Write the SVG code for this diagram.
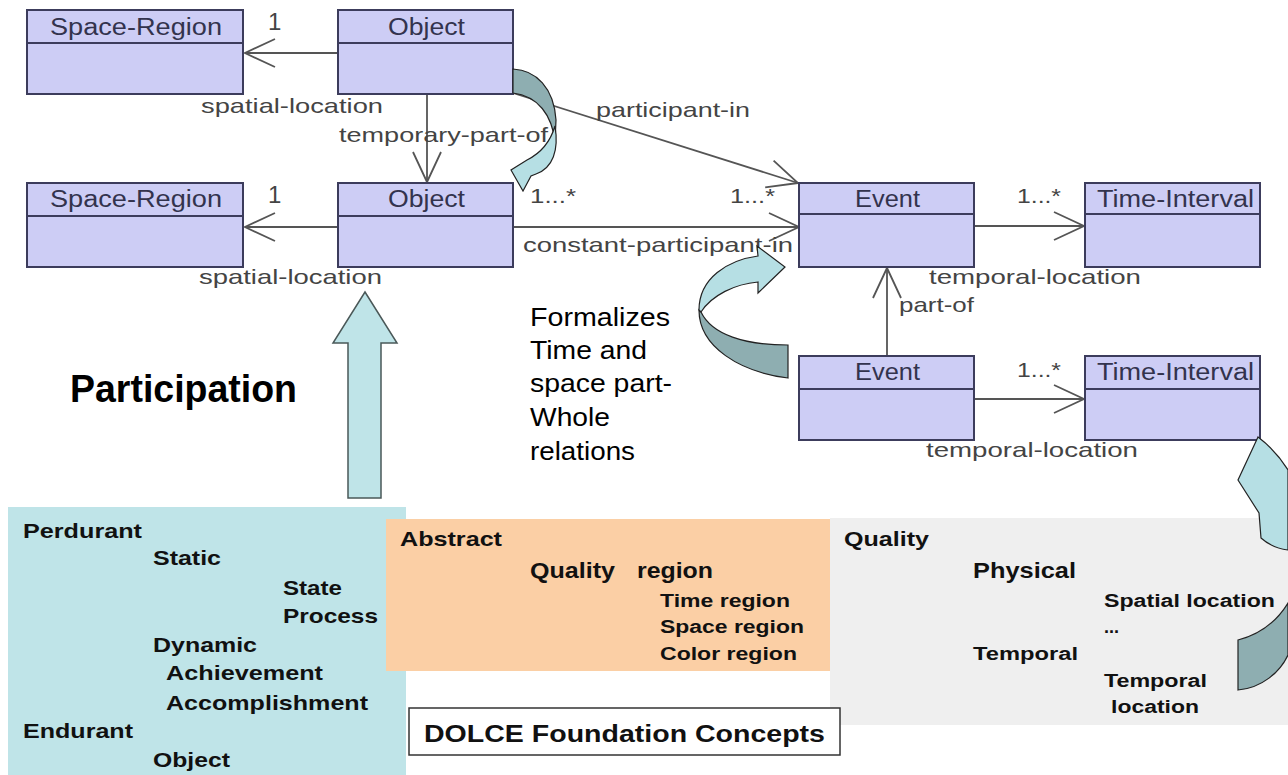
<svg xmlns="http://www.w3.org/2000/svg" width="1288" height="775" viewBox="0 0 1288 775">
<style>
.box{fill:#cdcdf5;stroke:#3c3c5c;stroke-width:2}
.div{stroke:#3c3c5c;stroke-width:2}
.hdr{font-family:"Liberation Sans",Arial,sans-serif;font-size:23px;fill:#33334d}
.lbl{font-family:"Liberation Sans",Arial,sans-serif;font-size:21px;fill:#444}
.one{font-size:24px}
.ln{stroke:#555;stroke-width:1.8;fill:none}
.big{font-family:"Liberation Sans",Arial,sans-serif;fill:#000}
.b{font-family:"Liberation Sans",Arial,sans-serif;font-weight:bold;fill:#111}
.light{fill:#b6dfe4;stroke:#222;stroke-width:1.2}
.dark{fill:#8eaeb1;stroke:#222;stroke-width:1.2}
</style>
<defs>
<marker id="open" markerUnits="userSpaceOnUse" markerWidth="40" markerHeight="40" viewBox="-35 -20 40 40" refX="0" refY="0" orient="auto" overflow="visible">
<path d="M-30,-14 L0,0 L-30,14" fill="none" stroke="#555" stroke-width="1.8"/>
</marker>
</defs>
<rect width="1288" height="775" fill="#fff"/>

<g id="panels">
<rect id="panel-perdurant" x="8" y="507" width="398" height="268" fill="#bfe4e8"/>
<rect id="panel-abstract" x="386" y="519" width="444" height="152" fill="#fbcfa5"/>
<rect id="panel-quality" x="830" y="518" width="458" height="207" fill="#efefef"/>
</g>

<g id="connectors">
<line class="ln" x1="338" y1="53" x2="245" y2="53" marker-end="url(#open)"/>
<line class="ln" x1="427" y1="94" x2="427" y2="182" marker-end="url(#open)"/>
<line class="ln" x1="513" y1="93" x2="798" y2="183" marker-end="url(#open)"/>
<line class="ln" x1="338" y1="227" x2="245" y2="227" marker-end="url(#open)"/>
<line class="ln" x1="513" y1="227" x2="799" y2="227" marker-end="url(#open)"/>
<line class="ln" x1="974" y1="226" x2="1084" y2="226" marker-end="url(#open)"/>
<line class="ln" x1="887" y1="356" x2="887" y2="268" marker-end="url(#open)"/>
<line class="ln" x1="974" y1="399" x2="1084" y2="399" marker-end="url(#open)"/>
<text class="lbl one" x="268" y="30">1</text>
<text class="lbl" x="201" y="113" textLength="182" lengthAdjust="spacingAndGlyphs">spatial-location</text>
<text class="lbl" x="339" y="142" textLength="209" lengthAdjust="spacingAndGlyphs">temporary-part-of</text>
<text class="lbl" x="596" y="117" textLength="154" lengthAdjust="spacingAndGlyphs">participant-in</text>
<text class="lbl one" x="268" y="203">1</text>
<text class="lbl" x="530" y="203" textLength="46" lengthAdjust="spacingAndGlyphs">1...*</text>
<text class="lbl" x="730" y="203" textLength="45" lengthAdjust="spacingAndGlyphs">1...*</text>
<text class="lbl" x="523" y="252" textLength="270" lengthAdjust="spacingAndGlyphs">constant-participant-in</text>
<text class="lbl" x="199" y="284" textLength="183" lengthAdjust="spacingAndGlyphs">spatial-location</text>
<text class="lbl" x="1017" y="203" textLength="44" lengthAdjust="spacingAndGlyphs">1...*</text>
<text class="lbl" x="929" y="284" textLength="212" lengthAdjust="spacingAndGlyphs">temporal-location</text>
<text class="lbl" x="899" y="312" textLength="75" lengthAdjust="spacingAndGlyphs">part-of</text>
<text class="lbl" x="1017" y="377" textLength="44" lengthAdjust="spacingAndGlyphs">1...*</text>
<text class="lbl" x="926" y="457" textLength="212" lengthAdjust="spacingAndGlyphs">temporal-location</text>
</g>

<g id="space-region-1">
<rect class="box" x="27" y="10" width="216" height="84"/>
<line class="div" x1="27" y1="43" x2="243" y2="43"/>
<text class="hdr" x="50" y="35" textLength="172" lengthAdjust="spacingAndGlyphs">Space-Region</text>
</g>
<g id="object-1">
<rect class="box" x="338" y="10" width="175" height="84"/>
<line class="div" x1="338" y1="43" x2="513" y2="43"/>
<text class="hdr" x="388" y="35" textLength="77" lengthAdjust="spacingAndGlyphs">Object</text>
</g>
<g id="space-region-2">
<rect class="box" x="27" y="183" width="216" height="84"/>
<line class="div" x1="27" y1="216" x2="243" y2="216"/>
<text class="hdr" x="50" y="207" textLength="172" lengthAdjust="spacingAndGlyphs">Space-Region</text>
</g>
<g id="object-2">
<rect class="box" x="338" y="183" width="175" height="84"/>
<line class="div" x1="338" y1="216" x2="513" y2="216"/>
<text class="hdr" x="388" y="207" textLength="77" lengthAdjust="spacingAndGlyphs">Object</text>
</g>
<g id="event-1">
<rect class="box" x="799" y="183" width="175" height="84"/>
<line class="div" x1="799" y1="214" x2="974" y2="214"/>
<text class="hdr" x="855" y="207" textLength="65" lengthAdjust="spacingAndGlyphs">Event</text>
</g>
<g id="time-interval-1">
<rect class="box" x="1085" y="183" width="175" height="84"/>
<line class="div" x1="1085" y1="214" x2="1260" y2="214"/>
<text class="hdr" x="1097" y="207" textLength="157" lengthAdjust="spacingAndGlyphs">Time-Interval</text>
</g>
<g id="event-2">
<rect class="box" x="799" y="356" width="175" height="84"/>
<line class="div" x1="799" y1="389" x2="974" y2="389"/>
<text class="hdr" x="855" y="380" textLength="65" lengthAdjust="spacingAndGlyphs">Event</text>
</g>
<g id="time-interval-2">
<rect class="box" x="1085" y="356" width="175" height="84"/>
<line class="div" x1="1085" y1="389" x2="1260" y2="389"/>
<text class="hdr" x="1097" y="380" textLength="157" lengthAdjust="spacingAndGlyphs">Time-Interval</text>
</g>

<g id="curl-top">
<path class="dark" d="M513,69 C536,70 554,88 556,120 L555,142 C552,115 538,96 513,93 Z"/>
<path class="light" d="M555,126 C559,150 553,168 536,174 L531,176 L523,191 L511,170 L527,160 C539,154 550,143 555,126 Z"/>
</g>
<g id="curl-mid">
<path class="dark" d="M699,310 C699,347 740,372 788,378 L788,345 C745,345 712,335 701,312 Z"/>
<path class="light" d="M699,310 C699,278 728,260 758,256 L757,246 L785,267 L758,293 L758,282 C735,284 712,295 701,312 Z"/>
</g>
<g id="curl-right">
<path class="light" d="M1258,437 L1238,480 L1259,513 L1261,538 C1270,546 1280,549 1288,550 L1288,470 C1280,457 1270,446 1258,437 Z"/>
<path class="dark" d="M1288,603 C1275,624 1258,635 1238,640 L1238,690 C1262,688 1280,672 1288,655 Z"/>
</g>
<g id="up-arrow">
<polygon points="365,292 397,343 381,343 381,498 348,498 348,343 333,343" fill="#bfe4e8" stroke="#4a5858" stroke-width="1.5"/>
</g>

<g id="formalizes-note">
<text class="big" font-size="26" x="530" y="326" textLength="140" lengthAdjust="spacingAndGlyphs">Formalizes</text>
<text class="big" font-size="26" x="530" y="359" textLength="117" lengthAdjust="spacingAndGlyphs">Time and</text>
<text class="big" font-size="26" x="530" y="392" textLength="142" lengthAdjust="spacingAndGlyphs">space part-</text>
<text class="big" font-size="26" x="530" y="426" textLength="80" lengthAdjust="spacingAndGlyphs">Whole</text>
<text class="big" font-size="26" x="530" y="460" textLength="105" lengthAdjust="spacingAndGlyphs">relations</text>
</g>
<g id="participation-title">
<text class="big" font-size="38" font-weight="bold" x="70" y="402" textLength="227" lengthAdjust="spacingAndGlyphs">Participation</text>
</g>

<g id="perdurant-list">
<text class="b" font-size="21" x="23" y="538" textLength="119" lengthAdjust="spacingAndGlyphs">Perdurant</text>
<text class="b" font-size="21" x="153" y="565" textLength="68" lengthAdjust="spacingAndGlyphs">Static</text>
<text class="b" font-size="21" x="283" y="595" textLength="59" lengthAdjust="spacingAndGlyphs">State</text>
<text class="b" font-size="21" x="283" y="623" textLength="95" lengthAdjust="spacingAndGlyphs">Process</text>
<text class="b" font-size="21" x="153" y="652" textLength="104" lengthAdjust="spacingAndGlyphs">Dynamic</text>
<text class="b" font-size="21" x="166" y="680" textLength="157" lengthAdjust="spacingAndGlyphs">Achievement</text>
<text class="b" font-size="21" x="166" y="710" textLength="202" lengthAdjust="spacingAndGlyphs">Accomplishment</text>
<text class="b" font-size="21" x="23" y="738" textLength="110" lengthAdjust="spacingAndGlyphs">Endurant</text>
<text class="b" font-size="21" x="153" y="767" textLength="77" lengthAdjust="spacingAndGlyphs">Object</text>
</g>
<g id="abstract-list">
<text class="b" font-size="21" x="400" y="546" textLength="102" lengthAdjust="spacingAndGlyphs">Abstract</text>
<text class="b" font-size="22" x="530" y="578" textLength="85" lengthAdjust="spacingAndGlyphs">Quality</text>
<text class="b" font-size="22" x="637" y="578" textLength="76" lengthAdjust="spacingAndGlyphs">region</text>
<text class="b" font-size="18" x="660" y="607" textLength="130" lengthAdjust="spacingAndGlyphs">Time region</text>
<text class="b" font-size="18" x="660" y="633" textLength="144" lengthAdjust="spacingAndGlyphs">Space region</text>
<text class="b" font-size="18" x="660" y="660" textLength="137" lengthAdjust="spacingAndGlyphs">Color region</text>
</g>
<g id="quality-list">
<text class="b" font-size="21" x="844" y="546" textLength="85" lengthAdjust="spacingAndGlyphs">Quality</text>
<text class="b" font-size="22" x="973" y="578" textLength="103" lengthAdjust="spacingAndGlyphs">Physical</text>
<text class="b" font-size="18" x="1104" y="607" textLength="171" lengthAdjust="spacingAndGlyphs">Spatial location</text>
<text class="b" font-size="18" x="1104" y="633">...</text>
<text class="b" font-size="18" x="973" y="660" textLength="105" lengthAdjust="spacingAndGlyphs">Temporal</text>
<text class="b" font-size="18" x="1104" y="687" textLength="103" lengthAdjust="spacingAndGlyphs">Temporal</text>
<text class="b" font-size="18" x="1111" y="713" textLength="88" lengthAdjust="spacingAndGlyphs">location</text>
</g>
<g id="dolce-caption">
<rect x="409" y="708" width="431" height="47" fill="#fff" stroke="#333" stroke-width="1.5"/>
<text class="b" font-size="23" x="424" y="742" textLength="401" lengthAdjust="spacingAndGlyphs">DOLCE Foundation Concepts</text>
</g>
</svg>
